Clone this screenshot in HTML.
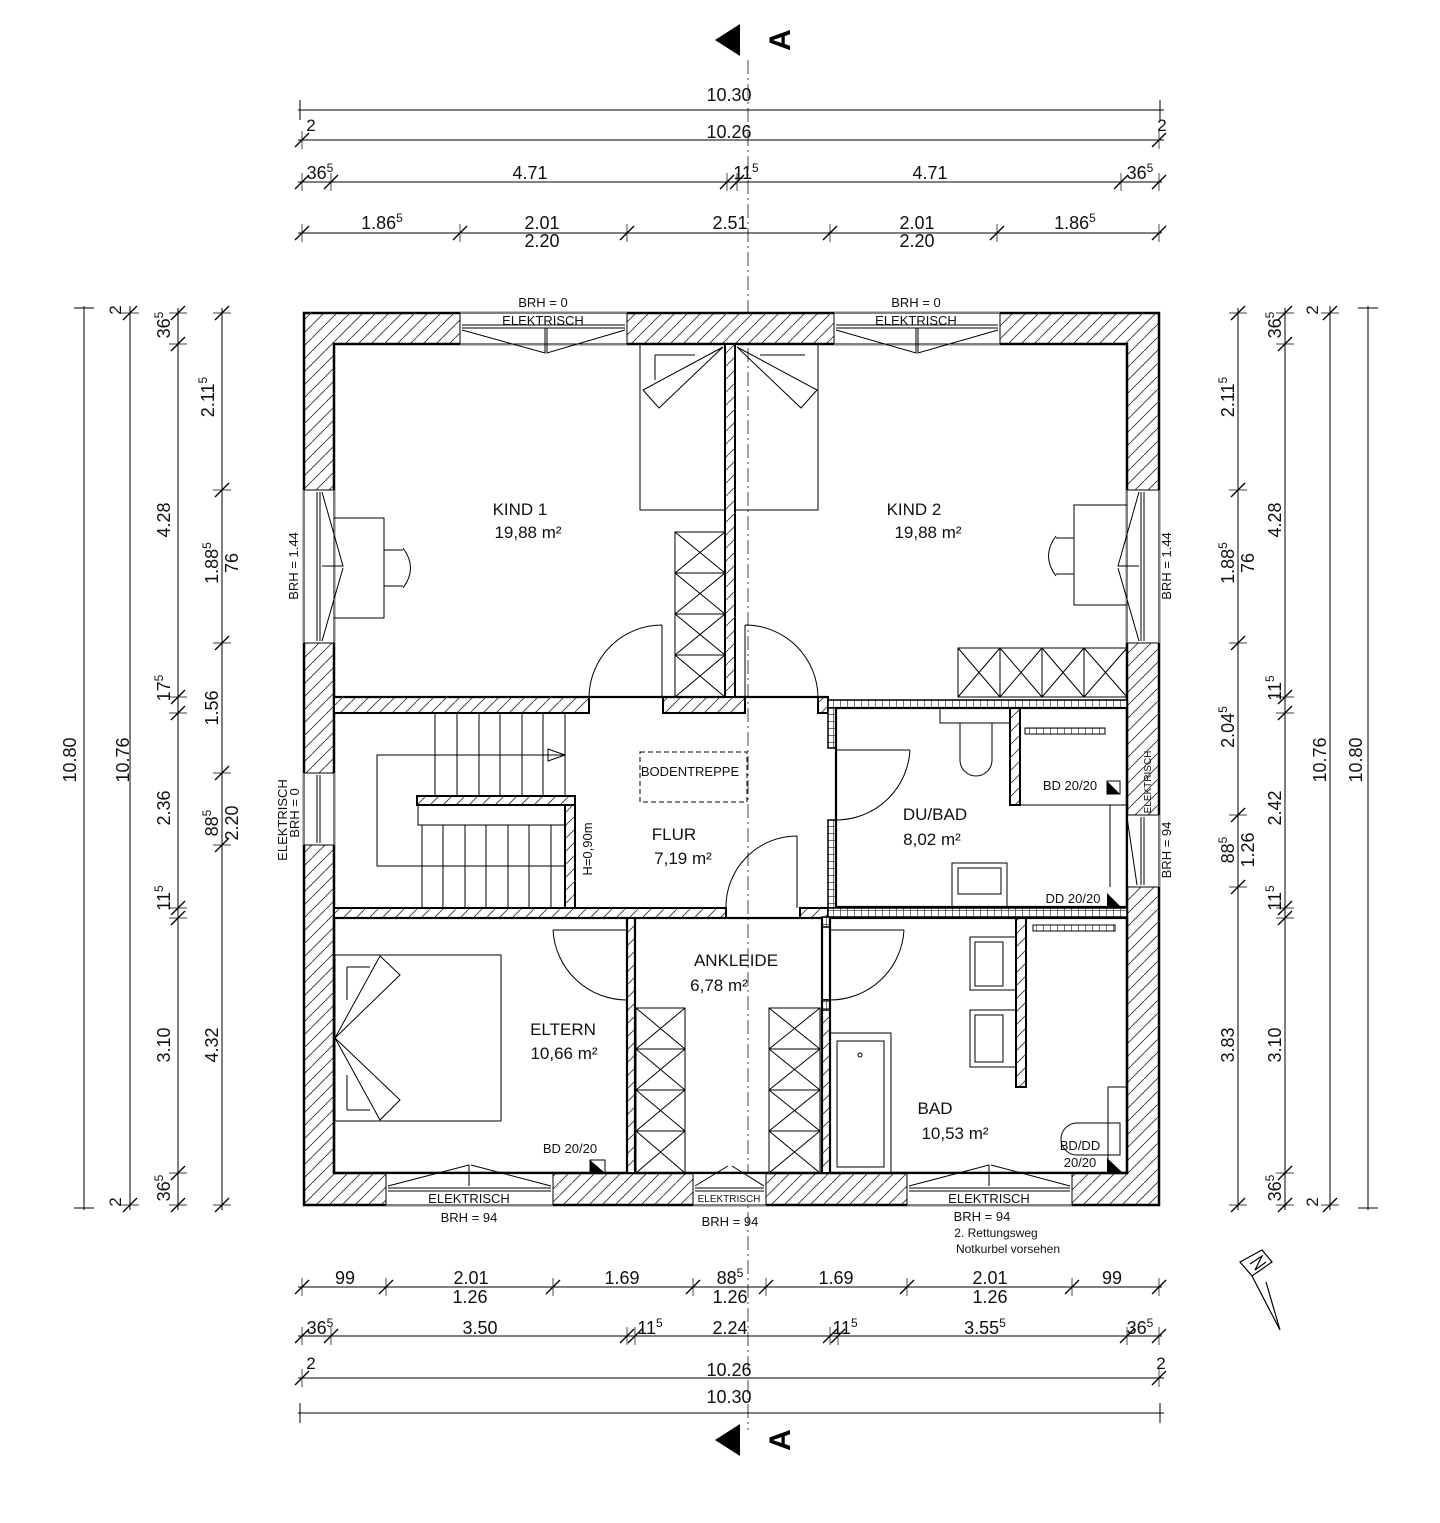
<!DOCTYPE html>
<html><head><meta charset="utf-8"><style>
html,body{margin:0;padding:0;background:#fff;}
svg{display:block;font-family:"Liberation Sans",Arial,sans-serif;}
</style></head><body>
<svg id="s" width="1440" height="1523" viewBox="0 0 1440 1523" xmlns="http://www.w3.org/2000/svg">
<defs>
<pattern id="h" patternUnits="userSpaceOnUse" width="13" height="13">
<rect width="13" height="13" fill="#fff"/>
<path d="M-1,14 L14,-1" stroke="#333" stroke-width="0.9"/>
</pattern>
<pattern id="m" patternUnits="userSpaceOnUse" width="7" height="7">
<rect width="7" height="7" fill="#fff"/>
<path d="M0,0 H7 M0,0 V7" stroke="#222" stroke-width="1.2"/>
</pattern>
</defs>

<line x1="748" y1="60" x2="748" y2="1430" stroke="#444" stroke-width="1" stroke-dasharray="14,4,2,4"/>

<path d="M304,313 H1159 V1205 H304 Z M334,344 V1173 H1127 V344 Z" fill="url(#h)" fill-rule="evenodd" stroke="#000" stroke-width="2.5"/>

<g fill="#fff" stroke="#000" stroke-width="1">
<rect x="460" y="312" width="167" height="33" stroke="none"/>
<rect x="834" y="312" width="166" height="33" stroke="none"/>
<rect x="303" y="490" width="32" height="153" stroke="none"/>
<rect x="303" y="773" width="32" height="72" stroke="none"/>
<rect x="1126" y="490" width="34" height="153" stroke="none"/>
<rect x="1126" y="815" width="34" height="72" stroke="none"/>
<rect x="386" y="1172" width="167" height="34" stroke="none"/>
<rect x="693" y="1172" width="73" height="34" stroke="none"/>
<rect x="907" y="1172" width="165" height="34" stroke="none"/>
</g>
<g stroke="#000" stroke-width="1" fill="none">
<path d="M460,313 H627 M460,344 H627 M460,313 V344 M627,313 V344"/>
<path d="M462,325 H625 M462,328 H625"/>
<path d="M462,330 L545,353 L545,328 M625,330 L547,353 L547,328"/>
<path d="M834,313 H1000 M834,344 H1000 M834,313 V344 M1000,313 V344"/>
<path d="M836,325 H998 M836,328 H998"/>
<path d="M836,330 L916,353 L916,328 M998,330 L918,353 L918,328"/>
<path d="M304,490 V643 M334,490 V643 M304,490 H334 M304,643 H334 M317,492 V641 M320,492 V641 M322,492 L343,566 L322,566 M322,641 L343,568"/>
<path d="M304,773 V845 M334,773 V845 M304,773 H334 M304,845 H334 M317,775 V843 M320,775 V843"/>
<path d="M1127,490 V643 M1159,490 V643 M1127,490 H1159 M1127,643 H1159 M1141,492 V641 M1144,492 V641 M1139,492 L1118,566 L1139,566 M1139,641 L1118,568"/>
<path d="M1127,815 V887 M1159,815 V887 M1127,815 H1159 M1127,887 H1159 M1141,817 V885 M1144,817 V885 M1127,817 L1137,885"/>
<path d="M386,1173 H553 M386,1205 H553 M386,1173 V1205 M553,1173 V1205 M388,1188 H551 M388,1191 H551 M388,1186 L469,1165 L469,1186 M551,1186 L471,1165"/>
<path d="M693,1173 H766 M693,1205 H766 M693,1173 V1205 M766,1173 V1205 M695,1188 H764 M695,1191 H764 M695,1186 L728,1166 M764,1186 L732,1166"/>
<path d="M907,1173 H1072 M907,1205 H1072 M907,1173 V1205 M1072,1173 V1205 M909,1188 H1070 M909,1191 H1070 M909,1186 L989,1165 L989,1186 M1070,1186 L991,1165"/>
</g>

<g fill="url(#h)" stroke="#000" stroke-width="2">
<rect x="334" y="697" width="255" height="16"/>
<rect x="663" y="697" width="82" height="16"/>
<rect x="818" y="697" width="10" height="16"/>
<rect x="725" y="344" width="10" height="353"/>
<rect x="334" y="908" width="392" height="10"/>
<rect x="800" y="908" width="28" height="10"/>
<rect x="627" y="918" width="8" height="255"/>
<rect x="822" y="1000" width="8" height="173"/>
<rect x="417" y="796" width="158" height="9"/>
<rect x="565" y="805" width="10" height="103"/>
<rect x="1010" y="708" width="10" height="97"/>
<rect x="1016" y="918" width="10" height="169"/>
</g>
<g fill="url(#m)" stroke="#000" stroke-width="1.5">
<rect x="828" y="700" width="299" height="8"/>
<rect x="828" y="708" width="8" height="40"/>
<rect x="828" y="820" width="8" height="88"/>
<rect x="828" y="908" width="299" height="9"/>
<rect x="822" y="917" width="8" height="10"/>
<rect x="822" y="1000" width="8" height="10"/>
</g>
<g fill="none" stroke="#000" stroke-width="2.2">
<path d="M334,697 H725 M735,697 H828"/>
<rect x="836" y="708" width="291" height="199"/>
<rect x="334" y="918" width="293" height="255"/>
<rect x="635" y="918" width="187" height="255"/>
<rect x="830" y="918" width="297" height="255"/>
</g>

<g fill="none" stroke="#000" stroke-width="1">
<path d="M662,625 V697 M662,625 A73,73 0 0 0 589,697"/>
<path d="M745,625 V697 M745,625 A73,73 0 0 1 818,697"/>
<path d="M797,836 V908 M797,836 A71,71 0 0 0 726,908"/>
<path d="M836,750 H910 M910,750 A74,74 0 0 1 836,820"/>
<path d="M553,930 H627 M553,930 A74,74 0 0 0 627,1000"/>
<path d="M830,930 H904 M904,930 A74,74 0 0 1 830,1000"/>
</g>

<g fill="none" stroke="#000" stroke-width="1">
<path d="M640,344 V510 H725"/>
<path d="M655,355 H695 M655,355 V380"/>
<path d="M723,347 L643,390 L659,408 Z"/>
<path d="M818,344 V510 H735"/>
<path d="M737,347 L817,390 L801,408 Z"/>
<path d="M805,355 H760"/>
<rect x="334" y="518" width="50" height="100"/>
<path d="M384,550 H403 M384,586 H403 M403,548 Q418,568 403,588"/>
<rect x="1074" y="505" width="53" height="100"/>
<path d="M1074,538 H1056 M1074,574 H1056 M1056,536 Q1041,556 1056,576"/>
<rect x="675" y="532" width="50" height="165"/>
<path d="M675,573 H725 M675,614 H725 M675,655 H725 M675,532 L725,573 M725,532 L675,573 M675,573 L725,614 M725,573 L675,614 M675,614 L725,655 M725,614 L675,655 M675,655 L725,697 M725,655 L675,697"/>
<rect x="958" y="648" width="169" height="49"/>
<path d="M1000,648 V697 M1042,648 V697 M1084,648 V697 M958,648 L1000,697 M1000,648 L958,697 M1000,648 L1042,697 M1042,648 L1000,697 M1042,648 L1084,697 M1084,648 L1042,697 M1084,648 L1127,697 M1127,648 L1084,697"/>
<path d="M435,713 V796 M457,713 V796 M479,713 V796 M500,713 V796 M522,713 V796 M543,713 V796 M565,713 V796"/>
<rect x="418" y="805" width="147" height="20"/>
<path d="M422,825 V908 M443,825 V908 M465,825 V908 M486,825 V908 M508,825 V908 M529,825 V908 M551,825 V908"/>
<path d="M565,755 H377 V866 H565"/>
<path d="M548,749 L565,755 L548,761 Z"/>
<rect x="640" y="752" width="107" height="50" stroke-dasharray="5,3"/>
<path d="M940,708 V723 H1010"/>
<path d="M960,723 H992 V760 A16,16 0 0 1 960,760 Z"/>
<rect x="952" y="863" width="55" height="44"/>
<rect x="958" y="868" width="43" height="26"/>
<path d="M1020,805 H1127 M1110,805 V887"/>
<rect x="335" y="955" width="166" height="166"/>
<path d="M347,967 H370 M347,967 V1000 M347,1110 H370 M347,1110 V1075"/>
<path d="M335,1038 L380,956 L400,975 Z M335,1038 L380,1120 L400,1100 Z"/>
<rect x="636" y="1008" width="49" height="165"/>
<path d="M636,1049 H685 M636,1090 H685 M636,1131 H685 M636,1008 L685,1049 M685,1008 L636,1049 M636,1049 L685,1090 M685,1049 L636,1090 M636,1090 L685,1131 M685,1090 L636,1131 M636,1131 L685,1173 M685,1131 L636,1173"/>
<rect x="769" y="1008" width="51" height="165"/>
<path d="M769,1049 H820 M769,1090 H820 M769,1131 H820 M769,1008 L820,1049 M820,1008 L769,1049 M769,1049 L820,1090 M820,1049 L769,1090 M769,1090 L820,1131 M820,1090 L769,1131 M769,1131 L820,1173 M820,1131 L769,1173"/>
<rect x="830" y="1033" width="61" height="140"/>
<rect x="837" y="1041" width="47" height="126"/>
<circle cx="860" cy="1055" r="2"/>
<rect x="970" y="937" width="46" height="53"/>
<rect x="975" y="942" width="28" height="44"/>
<rect x="970" y="1010" width="46" height="57"/>
<rect x="975" y="1015" width="28" height="47"/>
<path d="M1108,1173 V1087 H1127 M1077,1123 H1120 V1155 H1077 A16,16 0 0 1 1077,1123"/>
</g>
<g fill="url(#m)" stroke="#000" stroke-width="1">
<rect x="1025" y="728" width="80" height="6"/>
<rect x="1033" y="925" width="82" height="6"/>
</g>
<g fill="#000">
<path d="M590,1173 L605,1173 L590,1160 Z"/><rect x="590" y="1160" width="15" height="13" fill="none" stroke="#000"/>
<path d="M1107,781 L1120,794 L1107,794 Z"/><rect x="1107" y="781" width="13" height="13" fill="none" stroke="#000"/>
<path d="M1107,893 L1120,906 L1107,906 Z"/>
<path d="M1107,1158 L1122,1172 L1107,1172 Z"/>
</g>

<g font-size="17" fill="#111" text-anchor="middle">
<text x="520" y="515">KIND 1</text><text x="528" y="538">19,88 m²</text>
<text x="914" y="515">KIND 2</text><text x="928" y="538">19,88 m²</text>
<text x="674" y="840">FLUR</text><text x="683" y="864">7,19 m²</text>
<text x="935" y="820">DU/BAD</text><text x="932" y="845">8,02 m²</text>
<text x="736" y="966">ANKLEIDE</text><text x="719" y="991">6,78 m²</text>
<text x="563" y="1035">ELTERN</text><text x="564" y="1059">10,66 m²</text>
<text x="935" y="1114">BAD</text><text x="955" y="1139">10,53 m²</text>
</g>
<g font-size="13" fill="#111" text-anchor="middle">
<text x="543" y="307">BRH = 0</text><text x="543" y="325">ELEKTRISCH</text>
<text x="916" y="307">BRH = 0</text><text x="916" y="325">ELEKTRISCH</text>
<text x="690" y="776">BODENTREPPE</text>
<text x="1070" y="790">BD 20/20</text>
<text x="1073" y="903">DD 20/20</text>
<text x="570" y="1153">BD 20/20</text>
<text x="1080" y="1150">BD/DD</text><text x="1080" y="1167">20/20</text>
<text x="469" y="1203">ELEKTRISCH</text><text x="469" y="1222">BRH = 94</text>
<text x="989" y="1203">ELEKTRISCH</text><text x="982" y="1221">BRH = 94</text>
<text x="730" y="1226">BRH = 94</text>
<text x="729" y="1202" font-size="10">ELEKTRISCH</text>
<text x="996" y="1237" font-size="12">2. Rettungsweg</text>
<text x="1008" y="1253" font-size="12">Notkurbel vorsehen</text>
<text transform="translate(298,566) rotate(-90)">BRH = 1.44</text>
<text transform="translate(287,820) rotate(-90)">ELEKTRISCH</text>
<text transform="translate(299,813) rotate(-90)">BRH = 0</text>
<text transform="translate(1171,566) rotate(-90)">BRH = 1.44</text>
<text transform="translate(1171,850) rotate(-90)">BRH = 94</text>
<text transform="translate(1151,782) rotate(-90)" font-size="10">ELEKTRISCH</text>
<text transform="translate(592,849) rotate(-90)">H=0,90m</text>
</g>

<path d="M740,24 V56 L715,40 Z" fill="#000"/>
<text transform="translate(790,40) rotate(-90)" font-size="30" font-weight="bold" text-anchor="middle">A</text>
<path d="M740,1424 V1456 L715,1440 Z" fill="#000"/>
<text transform="translate(790,1440) rotate(-90)" font-size="30" font-weight="bold" text-anchor="middle">A</text>

<g fill="none" stroke="#000" stroke-width="1.2">
<path d="M1240,1262 L1262,1250 L1272,1262 L1252,1276 Z"/>
<path d="M1252,1276 L1280,1330 L1266,1282"/>
<path d="M1250,1264 L1262,1256 L1255,1270 L1266,1262"/>
</g>

<g stroke="#000" stroke-width="1" fill="none">
<path d="M298,110 H1164 M298,140 H1164 M298,182 H1162 M298,233 H1162"/>
<path d="M298,1287 H1162 M298,1336 H1162 M298,1378 H1164 M298,1413 H1164"/>
<path d="M84,306 V1210 M130,306 V1210 M178,308 V1210 M222,308 V1210"/>
<path d="M1238,308 V1210 M1285,308 V1210 M1330,306 V1210 M1368,306 V1210"/>
<path d="M300,100 V120 M1160,100 V120 M300,1403 V1423 M1160,1403 V1423 M74,308 H94 M74,1208 H94 M1358,308 H1378 M1358,1208 H1378"/>
</g>

<g font-size="18" fill="#111" text-anchor="middle">
<text x="729" y="101">10.30</text>
<text x="729" y="138">10.26</text>
<text x="311" y="131" font-size="17">2</text><text x="1162" y="131" font-size="17">2</text>
<text x="320" y="179">36<tspan font-size="12" dy="-7">5</tspan></text>
<text x="530" y="179">4.71</text>
<text x="746" y="179">11<tspan font-size="12" dy="-7">5</tspan></text>
<text x="930" y="179">4.71</text>
<text x="1140" y="179">36<tspan font-size="12" dy="-7">5</tspan></text>
<text x="382" y="229">1.86<tspan font-size="12" dy="-7">5</tspan></text>
<text x="542" y="229">2.01</text><text x="542" y="247">2.20</text>
<text x="730" y="229">2.51</text>
<text x="917" y="229">2.01</text><text x="917" y="247">2.20</text>
<text x="1075" y="229">1.86<tspan font-size="12" dy="-7">5</tspan></text>

<text x="345" y="1284">99</text>
<text x="471" y="1284">2.01</text><text x="470" y="1303">1.26</text>
<text x="622" y="1284">1.69</text>
<text x="730" y="1284">88<tspan font-size="12" dy="-7">5</tspan></text><text x="730" y="1303">1.26</text>
<text x="836" y="1284">1.69</text>
<text x="990" y="1284">2.01</text><text x="990" y="1303">1.26</text>
<text x="1112" y="1284">99</text>
<text x="320" y="1334">36<tspan font-size="12" dy="-7">5</tspan></text>
<text x="480" y="1334">3.50</text>
<text x="650" y="1334">11<tspan font-size="12" dy="-7">5</tspan></text>
<text x="730" y="1334">2.24</text>
<text x="845" y="1334">11<tspan font-size="12" dy="-7">5</tspan></text>
<text x="985" y="1334">3.55<tspan font-size="12" dy="-7">5</tspan></text>
<text x="1140" y="1334">36<tspan font-size="12" dy="-7">5</tspan></text>
<text x="311" y="1369" font-size="17">2</text><text x="1161" y="1369" font-size="17">2</text>
<text x="729" y="1376">10.26</text>
<text x="729" y="1403">10.30</text>

<text transform="translate(76,760) rotate(-90)">10.80</text>
<text transform="translate(129,760) rotate(-90)">10.76</text>
<text transform="translate(121,310) rotate(-90)" font-size="17">2</text>
<text transform="translate(121,1202) rotate(-90)" font-size="17">2</text>
<text transform="translate(170,325) rotate(-90)">36<tspan font-size="12" dy="-7">5</tspan></text>
<text transform="translate(170,520) rotate(-90)">4.28</text>
<text transform="translate(170,688) rotate(-90)">17<tspan font-size="12" dy="-7">5</tspan></text>
<text transform="translate(170,808) rotate(-90)">2.36</text>
<text transform="translate(170,898) rotate(-90)">11<tspan font-size="12" dy="-7">5</tspan></text>
<text transform="translate(170,1045) rotate(-90)">3.10</text>
<text transform="translate(170,1188) rotate(-90)">36<tspan font-size="12" dy="-7">5</tspan></text>
<text transform="translate(214,397) rotate(-90)">2.11<tspan font-size="12" dy="-7">5</tspan></text>
<text transform="translate(218,563) rotate(-90)">1.88<tspan font-size="12" dy="-7">5</tspan></text>
<text transform="translate(238,563) rotate(-90)">76</text>
<text transform="translate(218,708) rotate(-90)">1.56</text>
<text transform="translate(218,823) rotate(-90)">88<tspan font-size="12" dy="-7">5</tspan></text>
<text transform="translate(238,823) rotate(-90)">2.20</text>
<text transform="translate(218,1045) rotate(-90)">4.32</text>

<text transform="translate(1234,397) rotate(-90)">2.11<tspan font-size="12" dy="-7">5</tspan></text>
<text transform="translate(1234,563) rotate(-90)">1.88<tspan font-size="12" dy="-7">5</tspan></text>
<text transform="translate(1254,563) rotate(-90)">76</text>
<text transform="translate(1234,727) rotate(-90)">2.04<tspan font-size="12" dy="-7">5</tspan></text>
<text transform="translate(1234,850) rotate(-90)">88<tspan font-size="12" dy="-7">5</tspan></text>
<text transform="translate(1254,850) rotate(-90)">1.26</text>
<text transform="translate(1234,1045) rotate(-90)">3.83</text>
<text transform="translate(1281,325) rotate(-90)">36<tspan font-size="12" dy="-7">5</tspan></text>
<text transform="translate(1281,520) rotate(-90)">4.28</text>
<text transform="translate(1281,688) rotate(-90)">11<tspan font-size="12" dy="-7">5</tspan></text>
<text transform="translate(1281,808) rotate(-90)">2.42</text>
<text transform="translate(1281,898) rotate(-90)">11<tspan font-size="12" dy="-7">5</tspan></text>
<text transform="translate(1281,1045) rotate(-90)">3.10</text>
<text transform="translate(1281,1188) rotate(-90)">36<tspan font-size="12" dy="-7">5</tspan></text>
<text transform="translate(1318,310) rotate(-90)" font-size="17">2</text>
<text transform="translate(1318,1202) rotate(-90)" font-size="17">2</text>
<text transform="translate(1326,760) rotate(-90)">10.76</text>
<text transform="translate(1362,760) rotate(-90)">10.80</text>
</g>
<g id="ticks" stroke="#000" stroke-width="1.3"></g>
</svg>
<script>
(function(){
var g=document.getElementById('ticks'),s='';
function t(x,y){s+='<line x1="'+(x-7)+'" y1="'+(y+7)+'" x2="'+(x+7)+'" y2="'+(y-7)+'"/>';}
function H(y,xs){xs.forEach(function(x){t(x,y);s+='<line x1="'+x+'" y1="'+(y-9)+'" x2="'+x+'" y2="'+(y+9)+'" stroke-width="0.7"/>';});}
function V(x,ys){ys.forEach(function(y){t(x,y);s+='<line x1="'+(x-9)+'" y1="'+y+'" x2="'+(x+9)+'" y2="'+y+'" stroke-width="0.7"/>';});}
H(140,[302,1159]);
H(182,[302,331,727,737,1121,1159]);
H(233,[302,460,627,830,997,1159]);
H(1287,[302,386,553,693,766,907,1072,1159]);
H(1336,[302,331,627,635,830,838,1127,1159]);
H(1378,[302,1159]);
V(130,[313,1205]);
V(178,[313,344,697,713,908,918,1173,1205]);
V(222,[313,490,643,773,845,1205]);
V(1238,[313,490,643,815,887,1205]);
V(1285,[313,344,697,713,908,918,1173,1205]);
V(1330,[313,1205]);
g.innerHTML=s;
})();
</script>
</body></html>
